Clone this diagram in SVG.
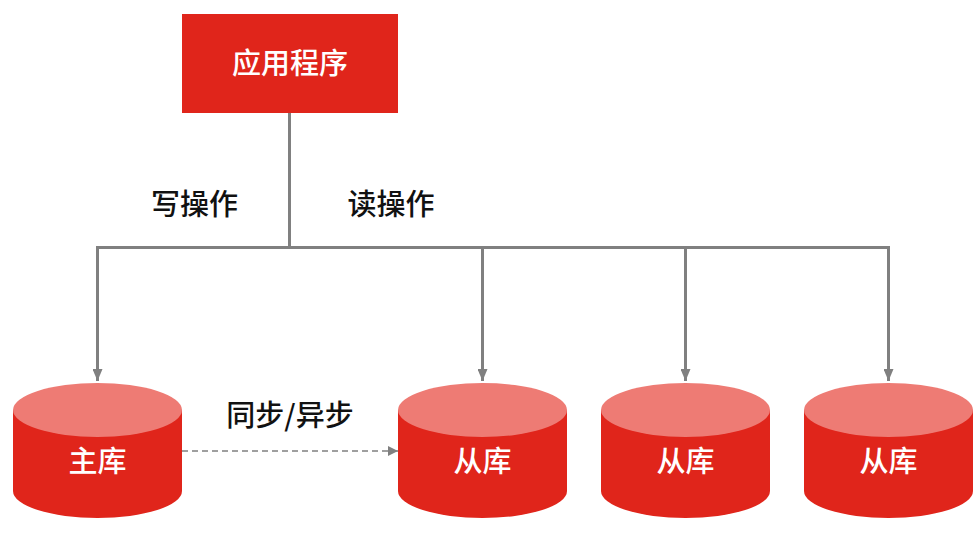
<svg xmlns="http://www.w3.org/2000/svg" width="977" height="536" viewBox="0 0 977 536">
<defs>
<style>
.t{font-family:"Noto Sans CJK SC","Noto Sans",sans-serif;font-size:29px;font-weight:500;text-anchor:middle}
.w{fill:#ffffff}
.k{fill:#111111}
.side{fill:#E0251B}
.top{fill:#EE7B74}
.ln{fill:none;stroke:#808080;stroke-width:3}
.dash{fill:none;stroke:#808080;stroke-width:1.6;stroke-dasharray:6 4}
</style>
<marker id="ah" viewBox="0 0 12 10" refX="12" refY="5" markerWidth="12" markerHeight="10" markerUnits="userSpaceOnUse" orient="auto">
<path d="M0,0 L12,5 L0,10 Z" fill="#808080"/>
</marker>
<marker id="ahs" viewBox="0 0 10 10" refX="10" refY="5" markerWidth="10" markerHeight="10" markerUnits="userSpaceOnUse" orient="auto">
<path d="M0,0 L10,5 L0,10 Z" fill="#808080"/>
</marker>
</defs>
<rect width="977" height="536" fill="#ffffff"/>
<g id="connectors">
<path class="ln" d="M289.5,113 V247.5"/>
<path class="ln" d="M97.5,247.5 H888.5"/>
<path class="ln" d="M97.5,246 V381" marker-end="url(#ah)"/>
<path class="ln" d="M482.5,246 V381" marker-end="url(#ah)"/>
<path class="ln" d="M685.5,246 V381" marker-end="url(#ah)"/>
<path class="ln" d="M888.5,246 V381" marker-end="url(#ah)"/>
<path class="dash" d="M182,451 H398" marker-end="url(#ahs)"/>
</g>
<g id="app">
<rect x="182" y="14" width="216" height="99" class="side"/>
<text class="t w" x="290" y="74">应用程序</text>
</g>
<g id="label-write"><text class="t k" x="194.5" y="215">写操作</text></g>
<g id="label-read"><text class="t k" x="391" y="215">读操作</text></g>
<g id="label-sync"><text class="t k" x="290" y="426">同步/异步</text></g>
<g id="master">
<path class="side" d="M13,410 V491 A84.5,27 0 0 0 182,491 V410 Z"/>
<ellipse class="top" cx="97.5" cy="410" rx="84.5" ry="27"/>
<text class="t w" x="97.5" y="472">主库</text>
</g>
<g id="slave1">
<path class="side" d="M398,410 V491 A84.5,27 0 0 0 567,491 V410 Z"/>
<ellipse class="top" cx="482.5" cy="410" rx="84.5" ry="27"/>
<text class="t w" x="482.5" y="472">从库</text>
</g>
<g id="slave2">
<path class="side" d="M601,410 V491 A84.5,27 0 0 0 770,491 V410 Z"/>
<ellipse class="top" cx="685.5" cy="410" rx="84.5" ry="27"/>
<text class="t w" x="685.5" y="472">从库</text>
</g>
<g id="slave3">
<path class="side" d="M804,410 V491 A84.5,27 0 0 0 973,491 V410 Z"/>
<ellipse class="top" cx="888.5" cy="410" rx="84.5" ry="27"/>
<text class="t w" x="888.5" y="472">从库</text>
</g>
</svg>
